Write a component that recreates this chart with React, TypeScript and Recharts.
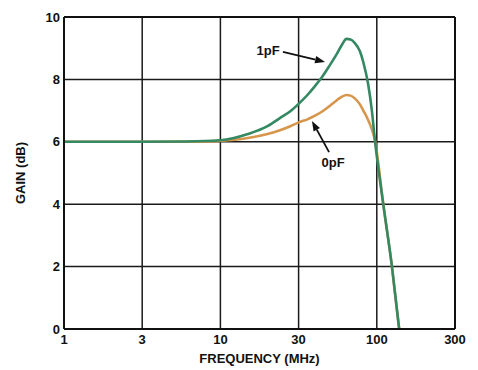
import React from "react";
import { LineChart, Line, XAxis, YAxis, CartesianGrid, ReferenceLine, ReferenceDot } from "recharts";

// frequency points (MHz) shared by both curves
const freqMHz = [1, 3, 6, 10, 15, 20, 24, 28, 32, 36, 40, 45, 50, 56, 60, 64, 68, 72, 78, 82, 88, 93, 97, 110, 125, 139];
// gain (dB) with 1pF load
const gain1pF = [6.0, 6.0, 6.01, 6.05, 6.25, 6.5, 6.76, 6.98, 7.24, 7.5, 7.77, 8.1, 8.45, 8.85, 9.12, 9.3, 9.28, 9.18, 8.9, 8.55, 7.85, 7.0, 6.1, 4.0, 2.0, 0.0];
// gain (dB) with 0pF load
const gain0pF = [6.0, 6.0, 6.0, 6.03, 6.12, 6.25, 6.37, 6.5, 6.63, 6.72, 6.83, 6.98, 7.15, 7.35, 7.45, 7.5, 7.48, 7.4, 7.2, 7.0, 6.7, 6.4, 6.08, 4.0, 2.0, 0.0];

// axis ticks (half-decade spacing on the log axis)
const xTicks = [1, 3.1623, 10, 31.623, 100, 316.23];
const xTickLabels = ["1", "3", "10", "30", "100", "300"];
const yTicks = [0, 2, 4, 6, 8, 10];

const data = freqMHz.map((f, i) => ({ f, pf1: gain1pF[i], pf0: gain0pF[i] }));

const INK = "#111";
const FONT = "'Liberation Sans', Arial, sans-serif";

// arrow drawn from (x1,y1) to the tip (x2,y2)
const Arrow = (props: any) => {
  const { x1, y1, x2, y2 } = props;
  const dx = x2 - x1;
  const dy = y2 - y1;
  const len = Math.hypot(dx, dy) || 1;
  const ux = dx / len;
  const uy = dy / len;
  const hl = 10;
  const hw = 3.6;
  const bx = x2 - ux * hl;
  const by = y2 - uy * hl;
  return (
    <g>
      <line x1={x1} y1={y1} x2={bx} y2={by} stroke={INK} strokeWidth={1.8} />
      <polygon
        points={`${x2},${y2} ${bx - uy * hw},${by + ux * hw} ${bx + uy * hw},${by - ux * hw}`}
        fill={INK}
      />
    </g>
  );
};

const makeLabel = (text: string) => (props: any) => (
  <text
    x={props.cx}
    y={props.cy}
    textAnchor="middle"
    dominantBaseline="central"
    fontSize={13}
    fontWeight="bold"
    fontFamily={FONT}
    fill={INK}
  >
    {text}
  </text>
);

const App: React.FC = () => {
  return (
    <div style={{ position: "absolute", left: 0, top: 0, width: 478, height: 370, background: "#fff", fontFamily: FONT }}>
      <LineChart width={478} height={370} data={data} margin={{ top: 17, right: 23, left: 20, bottom: 7 }}>
        <CartesianGrid stroke="#1a1a1a" strokeWidth={1.5} />
        <XAxis
          dataKey="f"
          type="number"
          scale="log"
          domain={[1, 316.23]}
          allowDataOverflow
          ticks={xTicks}
          interval={0}
          tickFormatter={(v: number) => xTickLabels[xTicks.indexOf(v)]}
          height={34}
          tickSize={0}
          tickMargin={6}
          axisLine={{ stroke: INK, strokeWidth: 2 }}
          tick={{ fill: INK, fontSize: 13, fontWeight: "bold", fontFamily: FONT }}
          label={{ value: "FREQUENCY (MHz)", position: "insideBottom", offset: 0, fill: INK, fontSize: 13, fontWeight: "bold", fontFamily: FONT }}
        />
        <YAxis
          type="number"
          domain={[0, 10]}
          ticks={yTicks}
          interval={0}
          width={44}
          tickSize={0}
          tickMargin={4}
          axisLine={{ stroke: INK, strokeWidth: 2 }}
          tick={{ fill: INK, fontSize: 13, fontWeight: "bold", fontFamily: FONT }}
          label={{ value: "GAIN (dB)", angle: -90, position: "center", dx: -22, fill: INK, fontSize: 13, fontWeight: "bold", fontFamily: FONT }}
        />
        {/* top and right frame */}
        <ReferenceLine y={10} stroke={INK} strokeWidth={2} />
        <ReferenceLine x={316.23} stroke={INK} strokeWidth={2} />

        <Line type="monotone" dataKey="pf0" stroke="#d6964c" strokeWidth={2.6} dot={false} isAnimationActive={false} />
        <Line type="monotone" dataKey="pf1" stroke="#348862" strokeWidth={2.6} dot={false} isAnimationActive={false} />

        {/* annotations */}
        <ReferenceLine segment={[{ x: 25.1, y: 8.88 }, { x: 46.7, y: 8.56 }]} shape={Arrow} />
        <ReferenceDot x={20.2} y={8.94} r={0} shape={makeLabel("1pF")} />
        <ReferenceLine segment={[{ x: 49.5, y: 5.67 }, { x: 38.5, y: 6.67 }]} shape={Arrow} />
        <ReferenceDot x={52.5} y={5.35} r={0} shape={makeLabel("0pF")} />
      </LineChart>
    </div>
  );
};

export default App;
